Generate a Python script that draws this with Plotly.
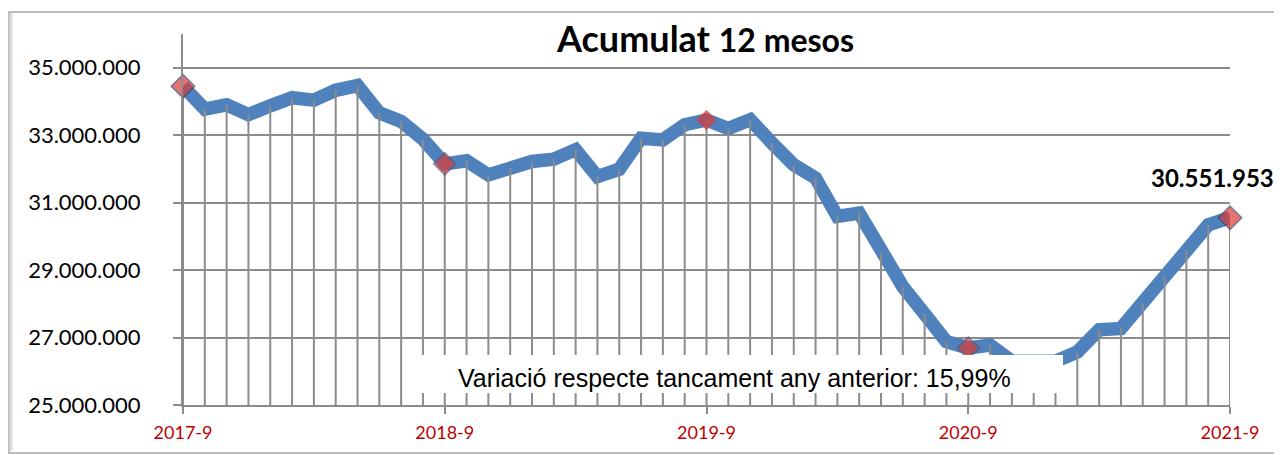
import plotly.graph_objects as go

months = ["2017-9", "2017-10", "2017-11", "2017-12", "2018-1", "2018-2", "2018-3", "2018-4",
          "2018-5", "2018-6", "2018-7", "2018-8", "2018-9", "2018-10", "2018-11", "2018-12",
          "2019-1", "2019-2", "2019-3", "2019-4", "2019-5", "2019-6", "2019-7", "2019-8",
          "2019-9", "2019-10", "2019-11", "2019-12", "2020-1", "2020-2", "2020-3", "2020-4",
          "2020-5", "2020-6", "2020-7", "2020-8", "2020-9", "2020-10", "2020-11", "2020-12",
          "2021-1", "2021-2", "2021-3", "2021-4", "2021-5", "2021-6", "2021-7", "2021-8",
          "2021-9"]

values = [34450000, 33770000, 33900000, 33610000, 33870000, 34110000, 34040000, 34330000,
          34470000, 33660000, 33410000, 32880000, 32150000, 32240000, 31820000, 32020000,
          32220000, 32290000, 32570000, 31770000, 31990000, 32910000, 32860000, 33310000,
          33450000, 33200000, 33460000, 32770000, 32120000, 31730000, 30590000, 30690000,
          29500000, 28510000, 27700000, 26880000, 26690000, 26780000, 26300000, 26340000,
          26300000, 26570000, 27230000, 27270000, 28020000, 28810000, 29600000, 30340000,
          30551953]

year_ticks = ["2017-9", "2018-9", "2019-9", "2020-9", "2021-9"]
y_ticks = [25000000, 27000000, 29000000, 31000000, 33000000, 35000000]
y_tick_text = ["25.000.000", "27.000.000", "29.000.000", "31.000.000", "33.000.000", "35.000.000"]

title_main = "Acumulat"
title_sub = "12 mesos"
note_text = "Variació respecte tancament any anterior: 15,99%"
last_label = "30.551.953"

Y_MIN, Y_MAX = 25000000, 36000000

# the page puts the figure 8px in from the top-left corner
OFF = 8
W, H = 1282 - OFF, 455 - OFF
L, R, T, B = 183 - OFF, 52, 34 - OFF, 50
PW, PH = W - L - R, H - T - B


def px_x(p):
    """page x pixel -> paper coordinate"""
    return (p - OFF - L) / PW


def px_y(p):
    """page y pixel -> paper coordinate"""
    return (H - B - (p - OFF)) / PH


GRID = "#8c8c8c"
BLUE = "#4F81BD"

fig = go.Figure()

# main series line
fig.add_trace(go.Scatter(
    x=months, y=values, mode="lines",
    line=dict(color=BLUE, width=13.5, shape="linear"),
    cliponaxis=False, hoverinfo="skip", showlegend=False,
))

# drop lines from each point to the baseline
fig.add_trace(go.Scatter(
    x=months, y=values, mode="markers",
    marker=dict(size=1, opacity=0),
    error_y=dict(type="data", symmetric=False, array=[0] * len(values),
                 arrayminus=[v - Y_MIN for v in values],
                 color=GRID, thickness=2, width=0),
    cliponaxis=False, hoverinfo="skip", showlegend=False,
))

# red diamond markers at each September
sep_y = [values[months.index(m)] for m in year_ticks]
fig.add_trace(go.Scatter(
    x=year_ticks, y=sep_y, mode="markers",
    marker=dict(symbol="diamond", size=[18, 17, 14, 17, 18],
                color="#DA3A35",
                line=dict(color=["#3a4060", "#4a5a80", "#DA3A35", "#4a5a80", "#3a4060"], width=1.5)),
    cliponaxis=False, hoverinfo="skip", showlegend=False,
))

shapes = [
    # outer frame
    dict(type="rect", xref="paper", yref="paper",
         x0=px_x(9), x1=px_x(1277), y0=px_y(453), y1=px_y(12),
         line=dict(color="#a6a6a6", width=1.5), fillcolor="rgba(0,0,0,0)", layer="below"),
    dict(type="line", xref="paper", yref="paper",
         x0=px_x(11), x1=px_x(11), y0=px_y(451), y1=px_y(13),
         line=dict(color="#dcdcdc", width=3), layer="below"),
    dict(type="line", xref="paper", yref="paper",
         x0=px_x(1279.5), x1=px_x(1279.5), y0=px_y(452), y1=px_y(14),
         line=dict(color="#d0d0d0", width=4), layer="below"),
    # white note box
    dict(type="rect", xref="paper", yref="paper",
         x0=px_x(404), x1=px_x(1063), y0=px_y(393), y1=px_y(355),
         line=dict(width=0), fillcolor="white", layer="above"),
]

annotations = [
    dict(xref="paper", yref="paper", x=px_x(705), y=px_y(38),
         text="<b>" + title_main + " <span style='font-size:32px'>" + title_sub + "</span></b>",
         showarrow=False, xanchor="center", yanchor="middle",
         font=dict(family="Lato", size=36, color="black")),
    dict(xref="paper", yref="paper", x=px_x(735), y=px_y(378),
         text=note_text, showarrow=False, xanchor="center", yanchor="middle",
         font=dict(family="Liberation Sans", size=25, color="black")),
    dict(x=months[-1], y=values[-1], xref="x", yref="y",
         text="<b>" + last_label + "</b>", showarrow=False,
         xanchor="center", yanchor="middle", xshift=-18, yshift=40,
         bgcolor="white", font=dict(family="Lato", size=24, color="black")),
]

fig.update_layout(
    width=W, height=H,
    margin=dict(l=L, r=R, t=T, b=B),
    paper_bgcolor="white", plot_bgcolor="white",
    shapes=shapes, annotations=annotations,
    showlegend=False,
    xaxis=dict(
        type="category", categoryorder="array", categoryarray=months,
        range=[0, len(months) - 1],
        showgrid=False, zeroline=False,
        showline=True, linecolor=GRID, linewidth=2,
        ticks="outside", ticklen=7, tickwidth=2, tickcolor=GRID,
        tickvals=year_ticks, ticktext=year_ticks,
        tickfont=dict(family="Lato", size=18, color="#C00000"),
        ticklabelstandoff=3,
    ),
    yaxis=dict(
        range=[Y_MIN, Y_MAX],
        tickvals=y_ticks, ticktext=y_tick_text,
        showgrid=True, gridcolor=GRID, gridwidth=2,
        zeroline=False,
        showline=True, linecolor=GRID, linewidth=2,
        ticks="outside", ticklen=8, tickwidth=2, tickcolor=GRID,
        tickfont=dict(family="Lato", size=22, color="black"),
        ticklabelstandoff=28,
    ),
)

fig.write_html("out.html")
